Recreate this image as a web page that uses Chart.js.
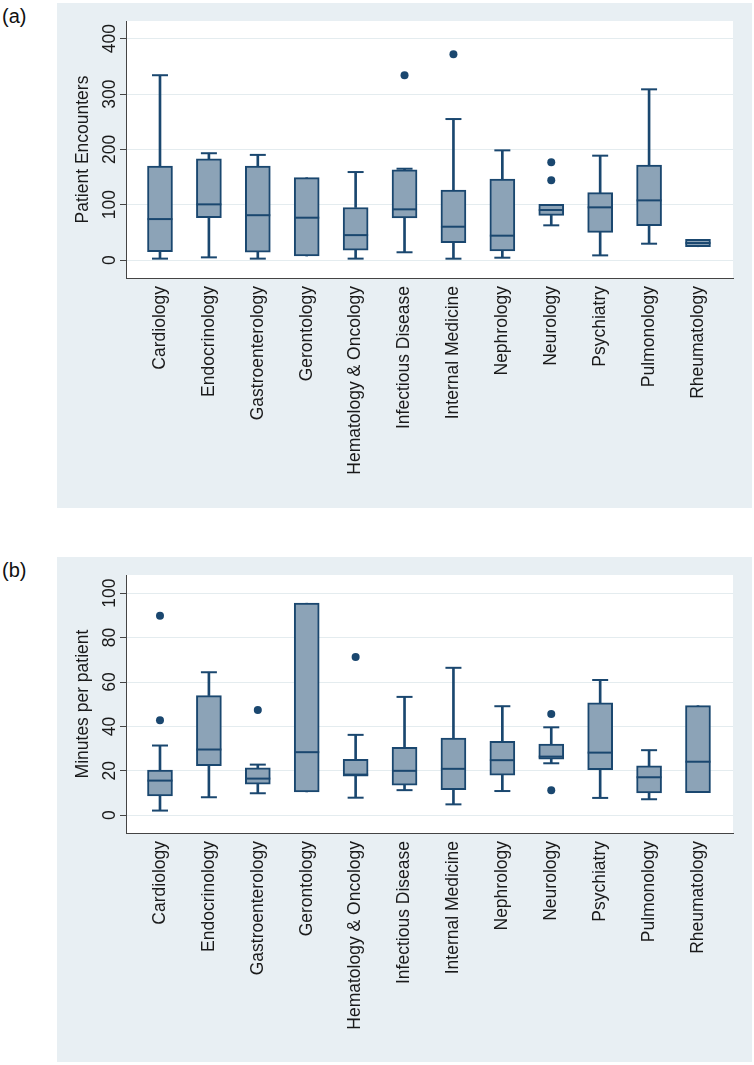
<!DOCTYPE html>
<html>
<head>
<meta charset="utf-8">
<script src="https://cdn.jsdelivr.net/npm/chart.js@4/dist/chart.umd.min.js"></script>
<style>
  body { margin: 0; background: #fff; width: 754px; height: 1065px; position: relative; overflow: hidden; font-family: "Liberation Sans", Arial, sans-serif; }
  .panel { position: absolute; left: 57px; width: 695px; height: 505px; background: #e8eff3; }
  .tag { position: absolute; left: 2px; font-size: 20px; line-height: 20px; color: #111; }
</style>
</head>
<body>
<div class="tag" style="top:6px">(a)</div>
<div class="panel" style="top:3px"><canvas id="chartA" width="695" height="505"></canvas></div>
<div class="tag" style="top:560px">(b)</div>
<div class="panel" style="top:557px"><canvas id="chartB" width="695" height="505"></canvas></div>

<script>
const categories = ["Cardiology", "Endocrinology", "Gastroenterology", "Gerontology", "Hematology & Oncology", "Infectious Disease", "Internal Medicine", "Nephrology", "Neurology", "Psychiatry", "Pulmonology", "Rheumatology"];

// (a) patient encounters
const lowA = [2.5, 4.8, 2.5, 7.2, 2.5, 14, 2.4, 4.2, 62.7, 8.4, 29.5, 24];
const q1A = [15, 76.5, 14, 7.2, 18, 76, 31.3, 16.3, 80.7, 50, 62, 24];
const medA = [74, 100.6, 81, 76.5, 45, 91.6, 60.2, 44, 90.4, 95.2, 107.8, 30.7];
const q3A = [170, 183, 170, 148.8, 95, 163, 126.5, 146.4, 100.6, 121.7, 171.7, 37.4];
const highA = [334, 193, 190, 148.8, 159, 165, 254.8, 198.2, 100.6, 188.6, 308.5, 37.4];
const outCatA = [5, 6, 8, 8];
const outValA = [334, 372, 176.5, 144];
const ticksA = [0, 100, 200, 300, 400];

// (b) minutes per patient
const lowB = [2.1, 8.1, 9.9, 10.5, 7.9, 11.3, 4.9, 10.9, 23.4, 7.8, 7.2, 10.2];
const q1B = [8.7, 22.3, 14, 10.5, 17.6, 13.5, 11.5, 18, 25.2, 20.5, 10, 10.2];
const medB = [15.6, 29.6, 16.5, 28.4, 18.3, 20, 20.9, 24.8, 26.4, 28.2, 17.1, 24.1];
const q3B = [20.3, 53.9, 21.4, 95.5, 25.2, 30.6, 34.7, 33.3, 32.1, 50.6, 22.3, 49.4];
const highB = [31.4, 64.4, 22.8, 95.5, 36.2, 53.3, 66.4, 49.1, 39.6, 60.9, 29.3, 49.4];
const outCatB = [0, 0, 2, 4, 8, 8];
const outValB = [89.8, 42.8, 47.4, 71.3, 45.6, 11.3];
const ticksB = [0, 20, 40, 60, 80, 100];

const NAVY = "#1a476f";
const FILL = "#8ca3b7";
const GRID = "#e4ecef";
const AXIS = "#444444";
const TEXT = "#1a1a1a";
const FONT = "'Liberation Sans', Arial, sans-serif";
const FONT_SIZE = 17.5;

// white plot region on the bluish panel
const plotBackground = {
    id: "plotBackground",
    beforeDraw: (chart) => {
        const { ctx, chartArea: a } = chart;
        ctx.save();
        ctx.fillStyle = "#ffffff";
        ctx.fillRect(a.left, a.top, a.right - a.left, a.bottom - a.top);
        ctx.restore();
    },
};

const idx = categories.map((_, i) => i);

// box, whiskers, medians, caps and outliers as datasets
const buildDatasets = (low, q1, med, q3, high, outCat, outVal) => {
    // a cap only where the whisker sticks out of the box
    const caps = idx.flatMap((i) => [
        low[i] < q1[i] ? { x: i, y: low[i] } : null,
        high[i] > q3[i] ? { x: i, y: high[i] } : null,
    ]).filter((p) => p);

    return [
        { type: "bar", data: idx.map((i) => ({ x: i, y: [low[i], q1[i]] })), backgroundColor: NAVY, barThickness: 2, grouped: false, order: 5 },
        { type: "bar", data: idx.map((i) => ({ x: i, y: [q3[i], high[i]] })), backgroundColor: NAVY, barThickness: 2, grouped: false, order: 5 },
        { type: "bar", data: idx.map((i) => ({ x: i, y: [q1[i], q3[i]] })), backgroundColor: FILL, borderColor: NAVY, borderWidth: 2, borderSkipped: false, barThickness: 25, grouped: false, order: 3 },
        { type: "scatter", data: idx.map((i) => ({ x: i, y: med[i] })), pointStyle: "line", pointRadius: 12.5, pointBorderWidth: 2, borderColor: NAVY, backgroundColor: NAVY, order: 1 },
        { type: "scatter", data: caps, pointStyle: "line", pointRadius: 8, pointBorderWidth: 2, borderColor: NAVY, backgroundColor: NAVY, order: 1 },
        { type: "scatter", data: outCat.map((c, k) => ({ x: c, y: outVal[k] })), pointStyle: "circle", pointRadius: 4, pointBorderWidth: 0, borderColor: NAVY, backgroundColor: NAVY, order: 0 },
    ];
};

const makeChart = (id, datasets, yMin, yMax, yTicks, yTitle, xHeight) => {
    return new Chart(document.getElementById(id), {
        type: "bar",
        data: { datasets },
        plugins: [plotBackground],
        options: {
            responsive: false,
            animation: false,
            events: [],
            layout: { padding: { top: 18, right: 19, bottom: 0, left: 0 } },
            plugins: { legend: { display: false }, tooltip: { enabled: false } },
            scales: {
                x: {
                    type: "linear",
                    min: -0.695,
                    max: 11.716,
                    bounds: "data",
                    offset: false,
                    afterBuildTicks: (s) => { s.ticks = idx.map((i) => ({ value: i })); },
                    afterFit: (s) => { s.height = xHeight; },
                    grid: { display: false, drawTicks: false, offset: false },
                    border: { color: AXIS, width: 1 },
                    ticks: {
                        autoSkip: false,
                        minRotation: 90,
                        maxRotation: 90,
                        padding: 8,
                        color: TEXT,
                        font: { family: FONT, size: FONT_SIZE },
                        callback: (v) => categories[v],
                    },
                },
                y: {
                    min: yMin,
                    max: yMax,
                    bounds: "data",
                    afterBuildTicks: (s) => { s.ticks = yTicks.map((v) => ({ value: v })); },
                    afterFit: (s) => { s.width = 69; },
                    grid: { color: GRID, lineWidth: 1, drawTicks: true, tickLength: 6, tickColor: AXIS, tickWidth: 1 },
                    border: { color: AXIS, width: 1 },
                    ticks: {
                        minRotation: 90,
                        maxRotation: 90,
                        crossAlign: "center",
                        padding: -5,
                        color: TEXT,
                        font: { family: FONT, size: FONT_SIZE },
                    },
                    title: {
                        display: true,
                        text: yTitle,
                        color: TEXT,
                        font: { family: FONT, size: FONT_SIZE },
                        padding: { top: 16, bottom: 0 },
                    },
                },
            },
        },
    });
};

makeChart("chartA", buildDatasets(lowA, q1A, medA, q3A, highA, outCatA, outValA), -32.5, 432, ticksA, "Patient Encounters", 230);
makeChart("chartB", buildDatasets(lowB, q1B, medB, q3B, highB, outCatB, outValB), -8, 108.2, ticksB, "Minutes per patient", 229);
</script>
</body>
</html>
